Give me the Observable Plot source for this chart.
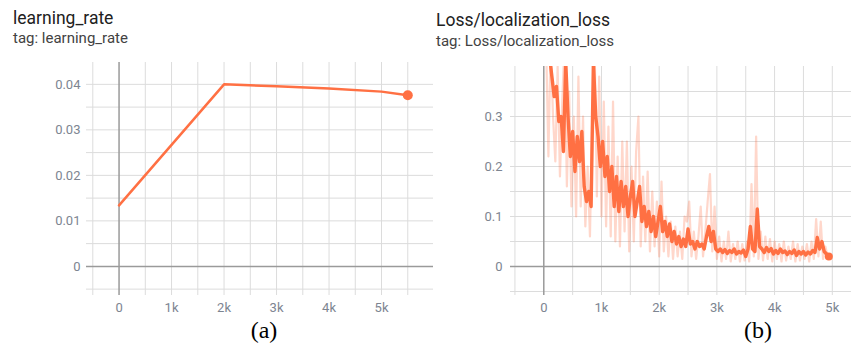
<!DOCTYPE html>
<html><head><meta charset="utf-8">
<script src="https://cdn.jsdelivr.net/npm/d3@7"></script>
<script src="https://cdn.jsdelivr.net/npm/@observablehq/plot@0.6"></script>
<style>
body{margin:0;background:#fff;}
#wrap{position:relative;width:851px;height:347px;overflow:hidden;font-family:Roboto,sans-serif;background:#fff;}
.title{position:absolute;font-size:17.5px;line-height:17.5px;color:#212121;white-space:nowrap;}
.sub{position:absolute;font-size:15px;line-height:15px;color:#424242;white-space:nowrap;}
.cap{position:absolute;width:60px;text-align:center;font-family:"Liberation Serif","Times New Roman",serif;font-size:24px;line-height:24px;color:#000;}
.chart{position:absolute;}
</style></head>
<body><div id="wrap">
<div class="title" style="left:13px;top:10.3px">learning_rate</div>
<div class="sub" style="left:13px;top:31.4px">tag: learning_rate</div>
<div class="title" style="left:436px;top:12px">Loss/localization_loss</div>
<div class="sub" style="left:436px;top:34.1px">tag: Loss/localization_loss</div>
<div class="chart" id="c1" style="left:0px;top:50px"></div>
<div class="chart" id="c2" style="left:430px;top:50px"></div>
<div class="cap" style="left:234px;top:318px">(a)</div>
<div class="cap" style="left:728px;top:318px">(b)</div>
</div>
<script>
// ---- data: learning rate ----
const lrSteps = [0, 2000, 3000, 4000, 5000, 5500];
const lrValues = [0.0134, 0.0400, 0.0396, 0.0391, 0.0384, 0.0376];
const lrXTicks = [0, 1000, 2000, 3000, 4000, 5000];
const lrYTicks = [0, 0.01, 0.02, 0.03, 0.04];

// ---- data: localization loss (smoothed / raw), steps start + i*interval ----
const lossDarkStart = 60, lossRawStart = 40, lossInterval = 40;
const lossDark = [
 0.45,0.42,0.38,0.34,0.36,0.29,0.30,0.23,0.41,0.30,
 0.22,0.27,0.19,0.26,0.21,0.27,0.16,0.13,0.15,0.12,
 0.41,0.30,0.26,0.20,0.25,0.18,0.22,0.15,0.20,0.12,
 0.18,0.11,0.17,0.12,0.16,0.10,0.14,0.17,0.10,0.13,
 0.16,0.09,0.12,0.08,0.11,0.07,0.10,0.06,0.09,0.12,
 0.07,0.09,0.06,0.085,0.05,0.07,0.045,0.06,0.04,0.055,
 0.04,0.075,0.045,0.05,0.035,0.05,0.04,0.045,0.035,0.06,
 0.08,0.05,0.07,0.035,0.03,0.035,0.028,0.034,0.026,0.032,
 0.028,0.035,0.025,0.03,0.027,0.033,0.02,0.035,0.08,0.035,
 0.03,0.115,0.04,0.035,0.028,0.038,0.03,0.036,0.025,0.032,
 0.026,0.035,0.028,0.031,0.024,0.03,0.026,0.033,0.022,0.03,
 0.025,0.03,0.023,0.029,0.025,0.032,0.028,0.058,0.035,0.05,
 0.03,0.025,0.02
];
const lossRaw = [
 0.45,0.22,0.45,0.30,0.21,0.40,0.18,0.33,0.45,0.16,
 0.35,0.12,0.30,0.10,0.38,0.12,0.30,0.08,0.20,0.06,
 0.30,0.45,0.14,0.38,0.10,0.33,0.08,0.28,0.06,0.33,
 0.05,0.22,0.04,0.25,0.07,0.25,0.03,0.20,0.05,0.23,
 0.30,0.04,0.18,0.05,0.19,0.03,0.15,0.04,0.13,0.02,
 0.17,0.03,0.10,0.02,0.09,0.015,0.08,0.02,0.07,0.015,
 0.10,0.09,0.13,0.02,0.07,0.015,0.06,0.12,0.02,0.07,
 0.13,0.185,0.03,0.12,0.015,0.06,0.01,0.05,0.015,0.07,
 0.01,0.045,0.015,0.05,0.01,0.045,0.012,0.05,0.01,0.165,
 0.02,0.26,0.015,0.07,0.012,0.06,0.015,0.055,0.01,0.05,
 0.015,0.045,0.01,0.05,0.012,0.04,0.015,0.05,0.01,0.045,
 0.012,0.04,0.015,0.045,0.01,0.05,0.015,0.095,0.02,0.09,
 0.015,0.04,0.02
];
const lossXTicks = [0, 1000, 2000, 3000, 4000, 5000];
const lossYTicks = [0, 0.1, 0.2, 0.3];

const ORANGE = "#ff7043";
const GRID = "#dcdcdc";
const ZERO = "#9a9a9a";
const fmtX = d => d === 0 ? "0" : (d / 1000) + "k";

function gridMarks(xGrid, yGrid) {
  return [
    Plot.ruleX(xGrid.filter(d => d !== 0), {stroke: GRID, strokeWidth: 1}),
    Plot.ruleY(yGrid.filter(d => Math.abs(d) > 1e-9), {stroke: GRID, strokeWidth: 1}),
    Plot.ruleX([0], {stroke: ZERO, strokeWidth: 1.5}),
    Plot.ruleY([0], {stroke: ZERO, strokeWidth: 1.5})
  ];
}
const style = {fontFamily: "Roboto, sans-serif", fontSize: "13px", color: "#7d8591", background: "transparent", overflow: "visible"};

// ---- chart (a) ----
const lrData = lrSteps.map((s, i) => ({step: s, value: lrValues[i]}));
const c1 = Plot.plot({
  width: 440, height: 270,
  marginLeft: 86, marginRight: 7, marginTop: 12, marginBottom: 25,
  style,
  x: {domain: [-620, 5990]},
  y: {domain: [-0.0064, 0.0448]},
  marks: [
    ...gridMarks(d3.range(-500, 5501, 500), d3.range(-0.005, 0.0401, 0.005)),
    Plot.axisX({ticks: lrXTicks, tickSize: 0, tickPadding: 7, tickFormat: fmtX, label: null}),
    Plot.axisY({ticks: lrYTicks, tickSize: 0, tickPadding: 6, tickFormat: d => d === 0 ? "0" : d.toFixed(2), label: null}),
    Plot.line(lrData, {x: "step", y: "value", stroke: ORANGE, strokeWidth: 2.5}),
    Plot.dot([lrData[lrData.length - 1]], {x: "step", y: "value", r: 5, fill: ORANGE})
  ]
});
document.getElementById("c1").appendChild(c1);

// ---- chart (b) ----
const darkData = lossDark.map((v, i) => ({step: lossDarkStart + i * lossInterval, value: v}));
const rawData = lossRaw.map((v, i) => ({step: lossRawStart + i * lossInterval, value: v}));
const c2 = Plot.plot({
  width: 421, height: 270,
  marginLeft: 80, marginRight: 0, marginTop: 16, marginBottom: 25,
  style,
  x: {domain: [-577, 5333]},
  y: {domain: [-0.058, 0.4]},
  marks: [
    ...gridMarks(d3.range(-500, 5001, 500), d3.range(-0.05, 0.351, 0.05)),
    Plot.axisX({ticks: lossXTicks, tickSize: 0, tickPadding: 7, tickFormat: fmtX, label: null}),
    Plot.axisY({ticks: lossYTicks, tickSize: 0, tickPadding: 8, tickFormat: d => d === 0 ? "0" : d.toFixed(1), label: null}),
    Plot.line(rawData, {x: "step", y: "value", stroke: ORANGE, strokeOpacity: 0.28, strokeWidth: 2.2, clip: true}),
    Plot.line(darkData, {x: "step", y: "value", stroke: ORANGE, strokeWidth: 3.4, strokeLinejoin: "round", clip: true}),
    Plot.dot([darkData[darkData.length - 1]], {x: "step", y: "value", r: 4, fill: ORANGE})
  ]
});
document.getElementById("c2").appendChild(c2);
</script>
</body></html>
